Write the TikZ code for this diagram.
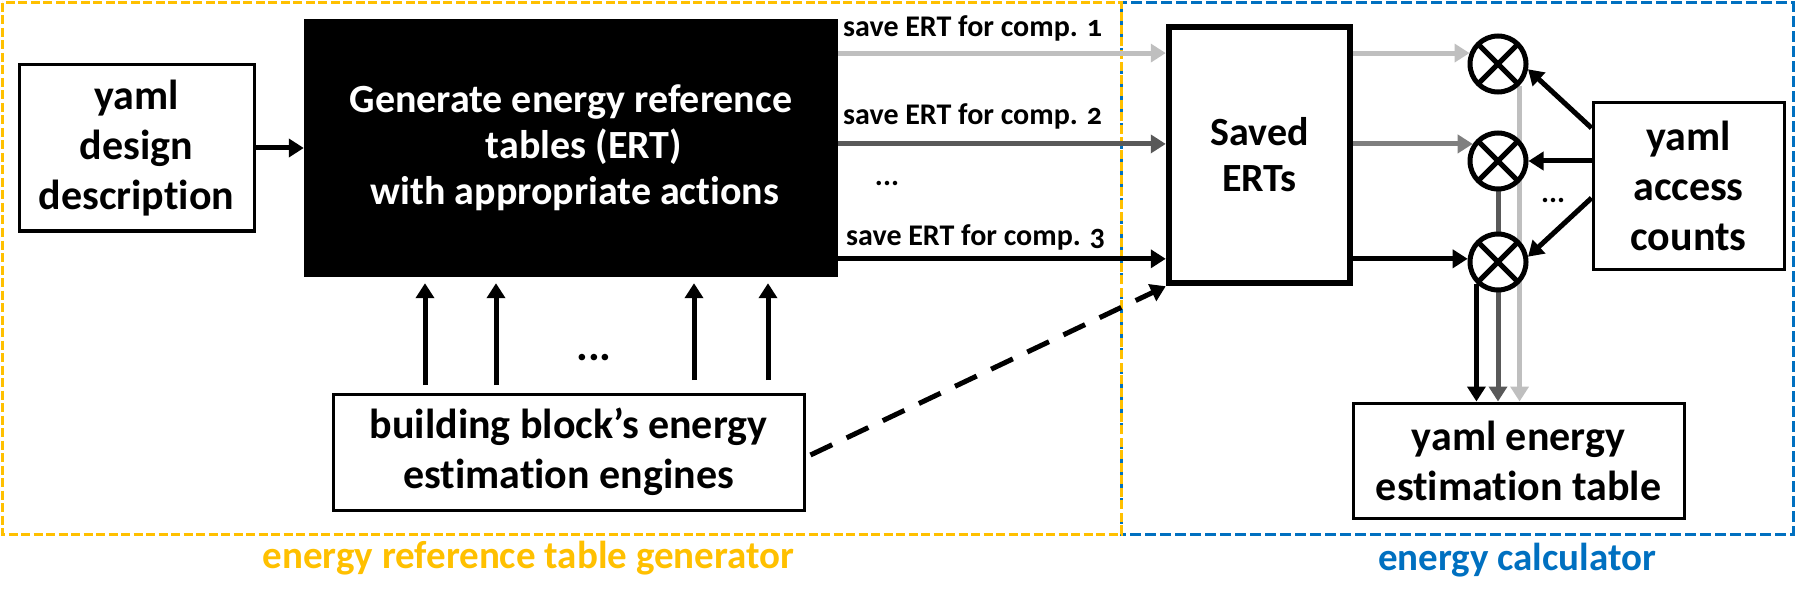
\documentclass[tikz,border=0pt]{standalone}
\usepackage{fontspec}
\setmainfont{Carlito}[Numbers=OldStyle, Ligatures=NoCommon]
\usetikzlibrary{arrows.meta}
\pgfdeclarelayer{bg}
\pgfsetlayers{bg,main}
\definecolor{ygold}{HTML}{FFC000}
\definecolor{mblue}{HTML}{0070C0}
\definecolor{lgray}{HTML}{BFBFBF}
\definecolor{mgray}{HTML}{7F7F7F}
\definecolor{dgray}{HTML}{595959}
\begin{document}
\begin{tikzpicture}[x=1pt,y=-1pt,
  box/.style={draw, line width=3pt, align=center, inner sep=0pt, font=\bfseries\fontsize{42}{50}\selectfont},
  mult/.style={circle, draw, fill=white, line width=5pt, minimum size=56pt, inner sep=0pt},
  arr/.style={line width=5pt, -{Triangle[length=15pt,width=18pt]}},
  lab/.style={font=\bfseries\fontsize{30}{36}\selectfont, inner sep=0pt},
  dots/.style={font=\bfseries\fontsize{30}{36}\selectfont, inner sep=0pt},
  frame/.style={line width=3pt},
  captxt/.style={font=\bfseries\fontsize{39}{45}\selectfont, anchor=base, inner sep=0pt},
]
\useasboundingbox (0,0) rectangle (1796,604);
% frames
\draw[frame, mblue, dash pattern=on 11pt off 4pt] (1121,3) rectangle (1793,534);
\draw[frame, ygold, dash pattern=on 9pt off 3.5pt] (2,3) rectangle (1121,534);
% main nodes
\node[box, minimum width=235pt, minimum height=166pt] (design) at (136.5,148) {yaml\\design\\description};
\node[fill=black, text=white, minimum width=534pt, minimum height=258pt, align=center, inner sep=0pt,
      font=\bfseries\fontsize{40}{46}\selectfont] (gen) at (571,148)
      {Generate energy reference\\\hspace*{26pt}tables (ERT)\\\hspace*{8pt}with appropriate actions};
\node[draw, line width=6.5pt, minimum width=181pt, minimum height=256pt, align=center, inner sep=0pt,
      font=\bfseries\fontsize{40}{46}\selectfont] (saved) at (1259.5,155) {Saved\\ERTs};
\node[box, minimum width=191pt, minimum height=166pt] (acc) at (1688.5,186) {yaml\\access\\counts};
\node[box, minimum width=331pt, minimum height=115pt] (table) at (1518.5,460.5) {yaml energy\\estimation table};
\node[box, minimum width=471pt, minimum height=116pt] (bb) at (568.5,452) {building block’s energy\\estimation engines};
% multipliers
\node[mult] (c1) at (1498,64) {};
\node[mult] (c2) at (1498,161) {};
\node[mult] (c3) at (1498,262) {};
\foreach \c in {c1,c2,c3} {
  \draw[line width=5pt, shorten >=2.5pt, shorten <=2.5pt] (\c.45) -- (\c.225);
  \draw[line width=5pt, shorten >=2.5pt, shorten <=2.5pt] (\c.135) -- (\c.315);
}
% labels
\node[lab, anchor=base west] (l1) at (843,37) {save ERT for comp. 1};
\node[lab, anchor=base west] (l2) at (843,125) {save ERT for comp. 2};
\node[lab, anchor=base west] (l3) at (846,245) {save ERT for comp. 3};
\node[dots] (d1) at (887,183) {...};
\node[dots, font=\bfseries\fontsize{44}{50}\selectfont] (d2) at (594,358) {...};
\node[dots] (d3) at (1553,200) {...};
% captions
\node[captxt, text=ygold] (cap1) at (528.5,568) {energy reference table generator};
\node[captxt, text=mblue] (cap2) at (1517,570) {energy calculator};
% connectors
\draw[arr] (design.east) -- (gen.west |- design.east);
\draw[arr, lgray] (gen.east |- c1.159) -- (saved.west |- c1.159);
\draw[arr, dgray] (gen.east |- c2.146) -- (saved.west |- c2.146);
\draw[arr] (gen.east |- c3.174) -- (saved.west |- c3.174);
\draw[arr, lgray] (saved.east |- c1.159) -- (c1.159);
\draw[arr, mgray] (saved.east |- c2.146) -- (c2.146);
\draw[arr] (saved.east |- c3.174) -- (c3.174);
\draw[arr] (acc.west |- 0,128) -- (c1.-10);
\draw[arr] (acc.west |- c2.east) -- (c2.east);
\draw[arr] (acc.west |- 0,198) -- (c3.10);
\begin{pgfonlayer}{bg}
\draw[arr, lgray] (c1.-45) -- (c1.-45 |- table.north);
\draw[arr, dgray] (c2.south) -- (c2.south |- table.north);
\end{pgfonlayer}
\draw[arr] (c3.-135) -- (c3.-135 |- table.north);
\foreach \x/\s in {425/7.5, 496/7.5, 694/12.5, 768/12.5}
  \draw[arr] ([yshift=\s pt]bb.north -| \x,0) -- ([yshift=-6pt]gen.south -| \x,0);
\draw[arr, dash pattern=on 24pt off 16pt] ([xshift=5pt,yshift=-3pt]bb.east) -- (saved.south west);
\end{tikzpicture}
\end{document}
